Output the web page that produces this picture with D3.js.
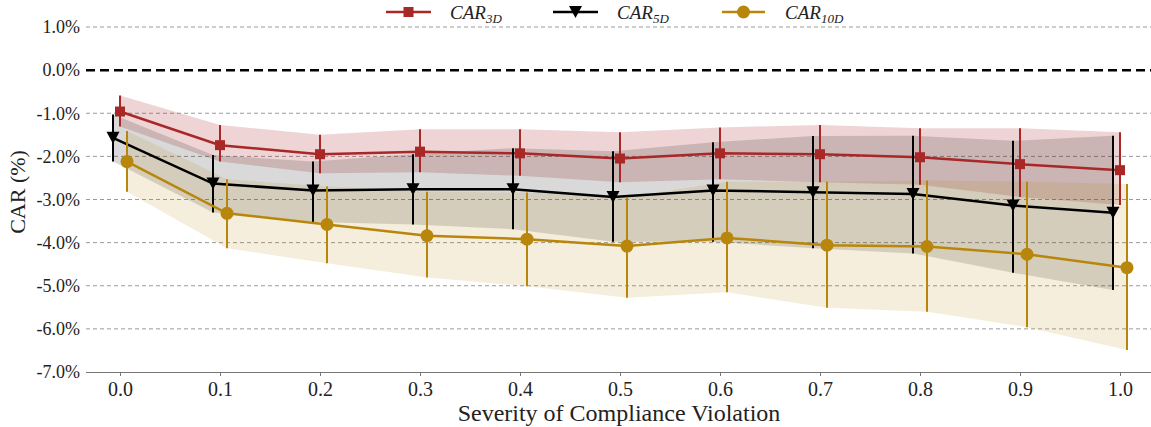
<!DOCTYPE html>
<html>
<head>
<meta charset="utf-8">
<script src="https://cdn.jsdelivr.net/npm/d3@7"></script>
<style>
  html, body { margin: 0; padding: 0; background: #fff; }
  svg { display: block; }
  text { font-family: "Liberation Serif", "Times New Roman", serif; fill: #222; }
</style>
</head>
<body>
<svg id="chart" width="1151" height="427"></svg>
<script>
// ---- data ----
const severity = [0.0, 0.1, 0.2, 0.3, 0.4, 0.5, 0.6, 0.7, 0.8, 0.9, 1.0];
const xTickLabels = ["0.0","0.1","0.2","0.3","0.4","0.5","0.6","0.7","0.8","0.9","1.0"];
const yTicks = [1, 0, -1, -2, -3, -4, -5, -6, -7];

const car3d   = [-0.96, -1.74, -1.95, -1.89, -1.93, -2.05, -1.93, -1.95, -2.02, -2.18, -2.32];
const car3dLo = [-1.31, -2.12, -2.39, -2.37, -2.45, -2.60, -2.53, -2.60, -2.66, -2.94, -3.13];
const car3dHi = [-0.59, -1.27, -1.50, -1.37, -1.37, -1.44, -1.33, -1.27, -1.35, -1.35, -1.44];

const car5d   = [-1.57, -2.63, -2.79, -2.76, -2.76, -2.94, -2.79, -2.83, -2.87, -3.14, -3.31];
const car5dLo = [-2.12, -3.30, -3.52, -3.58, -3.69, -3.98, -3.98, -4.13, -4.25, -4.70, -5.10];
const car5dHi = [-1.03, -1.97, -2.12, -1.95, -1.81, -1.88, -1.67, -1.53, -1.52, -1.64, -1.52];

const car10d   = [-2.12, -3.32, -3.58, -3.84, -3.92, -4.08, -3.89, -4.06, -4.09, -4.27, -4.58];
const car10dLo = [-2.82, -4.13, -4.48, -4.81, -5.01, -5.28, -5.15, -5.51, -5.60, -5.96, -6.49];
const car10dHi = [-1.41, -2.53, -2.70, -2.82, -2.84, -2.95, -2.59, -2.59, -2.56, -2.59, -2.64];

const seriesNames = ["3D", "5D", "10D"];

// ---- styling / layout ----
const series = [
  { name: seriesNames[0], mean: car3d,  lo: car3dLo,  hi: car3dHi,  color: "#a82828", bandOpacity: 0.2,  offset: 0.0,    marker: "square" },
  { name: seriesNames[1], mean: car5d,  lo: car5dLo,  hi: car5dHi,  color: "#000000", bandOpacity: 0.15, offset: -0.007, marker: "triangle" },
  { name: seriesNames[2], mean: car10d, lo: car10dLo, hi: car10dHi, color: "#b8860b", bandOpacity: 0.14, offset: 0.007,  marker: "circle" }
];

const svg = d3.select("#chart");
const x = d3.scaleLinear().domain([-0.034, 1.034]).range([86, 1154]);
const y = d3.scaleLinear().domain([-7, 1]).range([372, 27]);
const fmtPct = v => (v < 0 ? "-" : "") + Math.abs(v).toFixed(1) + "%";

// grid lines
svg.append("g").selectAll("line")
  .data(yTicks.filter(t => t !== 0 && t !== -7))
  .join("line")
  .attr("x1", 86).attr("x2", 1151)
  .attr("y1", d => y(d)).attr("y2", d => y(d))
  .attr("stroke", "#9a9a9a").attr("stroke-width", 1)
  .attr("stroke-dasharray", "4,3");

// zero line
svg.append("line")
  .attr("x1", 86).attr("x2", 1151)
  .attr("y1", y(0)).attr("y2", y(0))
  .attr("stroke", "#000").attr("stroke-width", 2.5)
  .attr("stroke-dasharray", "9,5");

// y axis (labels only)
const yAxis = d3.axisLeft(y).tickValues(yTicks).tickFormat(fmtPct).tickSize(0).tickPadding(0);
const gy = svg.append("g").attr("transform", "translate(80,0)").call(yAxis);
gy.select(".domain").remove();
gy.selectAll("text").attr("font-size", 18).attr("fill", "#222")
  .style("font-family", "'Liberation Serif', 'Times New Roman', serif");

// x axis
const xAxis = d3.axisBottom(x).tickValues(severity)
  .tickFormat((d, i) => xTickLabels[i]).tickSize(4).tickPadding(6).tickSizeOuter(0);
const gx = svg.append("g").attr("transform", `translate(0,${y(-7)})`).call(xAxis);
gx.select(".domain").attr("stroke", "#777").attr("d", "M86,0.5H1151");
gx.selectAll(".tick line").attr("stroke", "#777");
gx.selectAll("text").attr("font-size", 20).attr("fill", "#222")
  .style("font-family", "'Liberation Serif', 'Times New Roman', serif");

// bands
series.forEach(s => {
  const area = d3.area()
    .x((d, i) => x(severity[i] + s.offset))
    .y0((d, i) => y(s.lo[i]))
    .y1((d, i) => y(s.hi[i]));
  svg.append("path").datum(s.mean).attr("d", area)
    .attr("fill", s.color).attr("fill-opacity", s.bandOpacity).attr("stroke", "none");
});

// symbols
function drawMarker(g, type, cx, cy, color) {
  if (type === "square") {
    g.append("rect").attr("x", cx - 5).attr("y", cy - 5).attr("width", 10).attr("height", 10).attr("fill", color);
  } else if (type === "triangle") {
    g.append("path").attr("d", `M${cx - 6.5},${cy - 6}L${cx + 6.5},${cy - 6}L${cx},${cy + 6}Z`).attr("fill", color);
  } else {
    g.append("circle").attr("cx", cx).attr("cy", cy).attr("r", 6.5).attr("fill", color);
  }
}

series.forEach(s => {
  const g = svg.append("g");
  // error bars
  g.selectAll("line.err").data(s.mean).join("line").attr("class", "err")
    .attr("x1", (d, i) => x(severity[i] + s.offset)).attr("x2", (d, i) => x(severity[i] + s.offset))
    .attr("y1", (d, i) => y(s.lo[i])).attr("y2", (d, i) => y(s.hi[i]))
    .attr("stroke", s.color).attr("stroke-width", 2);
  // line
  const line = d3.line().x((d, i) => x(severity[i] + s.offset)).y(d => y(d));
  g.append("path").datum(s.mean).attr("d", line)
    .attr("fill", "none").attr("stroke", s.color).attr("stroke-width", 2.5);
  // markers
  s.mean.forEach((d, i) => drawMarker(g, s.marker, x(severity[i] + s.offset), y(d), s.color));
});

// axis labels
svg.append("text").attr("x", 619).attr("y", 421).attr("text-anchor", "middle")
  .attr("font-size", 24).text("Severity of Compliance Violation");
svg.append("text").attr("transform", "translate(25,192) rotate(-90)").attr("text-anchor", "middle")
  .attr("font-size", 22).text("CAR (%)");

// legend
const legendPos = [
  { x1: 386, x2: 431, tx: 450 },
  { x1: 553, x2: 598, tx: 617 },
  { x1: 722, x2: 765, tx: 785 }
];
series.forEach((s, k) => {
  const p = legendPos[k];
  const g = svg.append("g");
  g.append("line").attr("x1", p.x1).attr("x2", p.x2).attr("y1", 12).attr("y2", 12)
    .attr("stroke", s.color).attr("stroke-width", 2.5);
  drawMarker(g, s.marker, (p.x1 + p.x2) / 2, 12, s.color);
  const t = g.append("text").attr("x", p.tx).attr("y", 18.5).attr("font-size", 19).attr("font-style", "italic");
  t.append("tspan").text("CAR");
  t.append("tspan").attr("font-size", 13).attr("dy", 4).text(s.name);
});
</script>
</body>
</html>
